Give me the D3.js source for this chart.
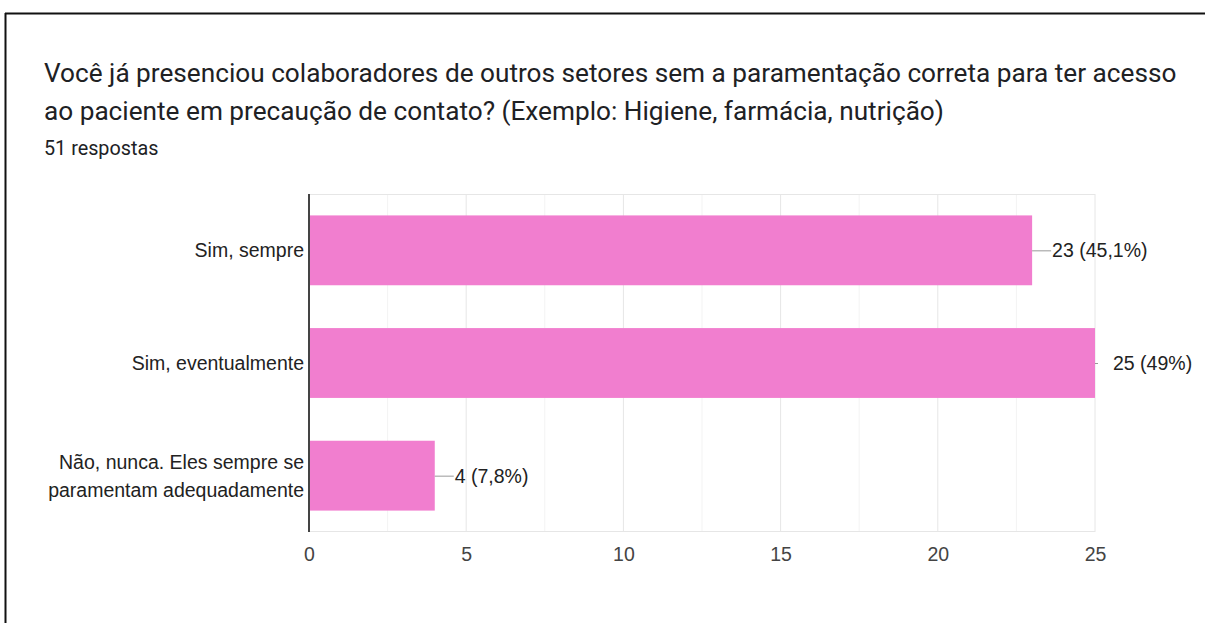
<!DOCTYPE html>
<html><head><meta charset="utf-8">
<script src="https://cdn.jsdelivr.net/npm/d3@7/dist/d3.min.js"></script>
<style>body{margin:0;background:#fff}</style>
</head><body>
<svg id="c" width="1205" height="623"></svg>
<script>
const titleLines = ["Você já presenciou colaboradores de outros setores sem a paramentação correta para ter acesso",
  "ao paciente em precaução de contato? (Exemplo: Higiene, farmácia, nutrição)"];
const subtitle = "51 respostas";
const categories = [["Sim, sempre"], ["Sim, eventualmente"], ["Não, nunca. Eles sempre se", "paramentam adequadamente"]];
const values = [23, 25, 4];
const valueLabels = ["23 (45,1%)", "25 (49%)", "4 (7,8%)"];
const ticks = [0, 5, 10, 15, 20, 25];
const minorTicks = [2.5, 7.5, 12.5, 17.5, 22.5];

const svg = d3.select("#c");
const labelFont = "'Liberation Sans', Arial, sans-serif";
// frame
svg.append("line").attr("x1",5.5).attr("x2",5.5).attr("y1",13).attr("y2",623).attr("stroke","#111").attr("stroke-width",2);
svg.append("line").attr("x1",5).attr("x2",1205).attr("y1",13.5).attr("y2",13.5).attr("stroke","#111").attr("stroke-width",2);

svg.selectAll("text.title").data(titleLines).join("text")
  .attr("x",44).attr("y",(d,i)=>82+i*38)
  .attr("font-family","Roboto, 'Noto Sans', sans-serif").attr("font-size",26.2).attr("fill","#202124")
  .text(d=>d);
svg.append("text").attr("x",44).attr("y",155).attr("font-family","Roboto, sans-serif")
  .attr("font-size",19.8).attr("fill","#202124").text(subtitle);

const x = d3.scaleLinear().domain([0,25]).range([309,1095]);
const y = d3.scaleBand().domain(d3.range(values.length)).range([194,532]).paddingInner(0.38).paddingOuter(0.19);

const g = svg.append("g");
// grid
g.selectAll("line.mg").data(minorTicks).join("line").attr("x1",d=>x(d)).attr("x2",d=>x(d))
  .attr("y1",194).attr("y2",532).attr("stroke","#f3f3f3");
g.selectAll("line.g").data(ticks).join("line").attr("x1",d=>x(d)).attr("x2",d=>x(d))
  .attr("y1",194).attr("y2",532).attr("stroke","#e6e6e6");
g.append("line").attr("x1",309).attr("x2",1095).attr("y1",194.5).attr("y2",194.5).attr("stroke","#e6e6e6");
g.append("line").attr("x1",309).attr("x2",1095).attr("y1",531.5).attr("y2",531.5).attr("stroke","#e6e6e6");

// bars
g.selectAll("rect.bar").data(values).join("rect")
  .attr("x",x(0)).attr("y",(d,i)=>y(i)).attr("width",d=>x(d)-x(0)).attr("height",y.bandwidth())
  .attr("fill","#f17ecf");

// axis line
g.append("line").attr("x1",309).attr("x2",309).attr("y1",194).attr("y2",532).attr("stroke","#444").attr("stroke-width",2);

// x axis
const ax = svg.append("g").attr("transform","translate(0,532)")
  .call(d3.axisBottom(x).tickValues(ticks).tickSize(0).tickPadding(15));
ax.select(".domain").remove();
ax.selectAll("text").attr("font-family",labelFont).attr("font-size",19.5).attr("fill","#444");

// category labels
categories.forEach((lines,i)=>{
  const cy = y(i)+y.bandwidth()/2;
  const t = svg.append("text").attr("text-anchor","end").attr("font-family",labelFont)
    .attr("font-size",19.5).attr("fill","#222");
  lines.forEach((l,j)=>{
    t.append("tspan").attr("x",304).attr("y",cy+7+(j-(lines.length-1)/2)*28).text(l);
  });
});

// value labels with leaders
values.forEach((v,i)=>{
  const cy = y(i)+y.bandwidth()/2;
  const outside = v===25;
  const lx = outside ? x(v)+18 : x(v)+20;
  svg.append("line").attr("x1",x(v)).attr("x2",outside?x(v)+3:x(v)+19).attr("y1",cy+0.5).attr("y2",cy+0.5).attr("stroke","#999");
  svg.append("text").attr("x",lx).attr("y",cy+7).attr("font-family",labelFont)
    .attr("font-size",19.5).attr("fill","#222").text(valueLabels[i]);
});
</script>
</body></html>
